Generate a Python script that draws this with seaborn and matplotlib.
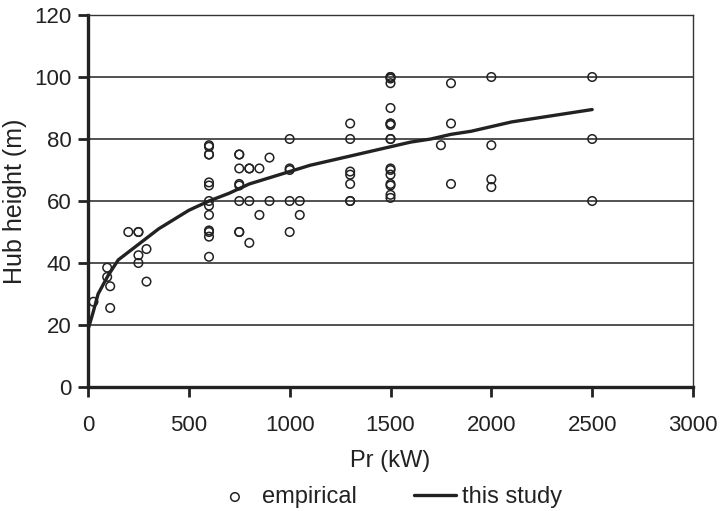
import matplotlib
matplotlib.use("Agg")
import matplotlib.pyplot as plt
import seaborn as sns
import pandas as pd
import numpy as np

sns.set_style("white")
plt.rcParams['font.family'] = ['Liberation Sans', 'DejaVu Sans']

emp_x = [27, 95, 95, 110, 110, 200, 250, 250, 250, 250, 290, 290,
         600, 600, 600, 600, 600, 600, 600, 600, 600, 600, 600, 600, 600,
         750, 750, 750, 750, 750, 750, 750, 750,
         800, 800, 800, 800, 850, 850, 900, 900,
         1000, 1000, 1000, 1000, 1000, 1050, 1050,
         1300, 1300, 1300, 1300, 1300, 1300, 1300,
         1500, 1500, 1500, 1500, 1500, 1500, 1500, 1500, 1500, 1500, 1500, 1500, 1500, 1500, 1500, 1500, 1500,
         1750, 1800, 1800, 1800, 2000, 2000, 2000, 2000, 2500, 2500, 2500]
emp_y = [27.5, 38.5, 35.5, 32.5, 25.5, 50, 50, 50, 42.5, 40, 44.5, 34,
         78, 77.5, 75, 75, 66, 65, 60, 58.5, 55.5, 50.5, 50, 48.5, 42,
         75, 75, 70.5, 65.5, 65, 60, 50, 50,
         70.5, 70.5, 60, 46.5, 70.5, 55.5, 74, 60,
         80, 70.5, 70, 60, 50, 60, 55.5,
         85, 80, 69.5, 68.5, 65.5, 60, 60,
         100, 100, 99.5, 98, 90, 85, 85, 84.5, 80, 80, 70.5, 70, 68.5, 65.5, 65, 62, 61,
         78, 98, 85, 65.5, 100, 78, 67, 64.5, 100, 80, 60]

line_x = [0, 25, 50, 100, 150, 200, 250, 300, 350, 400, 450, 500, 550, 600, 700, 800, 900,
          1000, 1100, 1200, 1300, 1400, 1500, 1600, 1700, 1800, 1900, 2000, 2100, 2200, 2300, 2400, 2500]
line_y = [18.5, 24, 30, 36, 41, 43.5, 46, 48.5, 51, 53, 55, 57, 58.5, 60, 62.5, 65.5, 67.5,
          69.5, 71.5, 73, 74.5, 76, 77.5, 79, 80, 81.5, 82.5, 84, 85.5, 86.5, 87.5, 88.5, 89.5]

emp = pd.DataFrame({"x": emp_x, "y": emp_y})
line = pd.DataFrame({"x": line_x, "y": line_y})

FS = 17
TXT = "#222222"

fig = plt.figure(figsize=(7.21, 5.11), dpi=100)
ax = fig.add_axes([88 / 721, 1 - 387 / 511, (693 - 88) / 721, (387 - 15) / 511])

for yv in [20, 40, 60, 80, 100]:
    ax.axhline(yv, color="#333333", lw=1.2, zorder=0)

sns.scatterplot(data=emp, x="x", y="y", ax=ax, marker="o", s=38,
                facecolors="none", edgecolor="#222222", linewidth=1.1,
                label="empirical", zorder=3)
sns.lineplot(data=line, x="x", y="y", ax=ax, color="#222222", lw=2.4,
             label="this study", zorder=4)

ax.set_xlim(0, 3000)
ax.set_ylim(0, 120)
ax.set_xticks(range(0, 3001, 500))
ax.set_yticks(range(0, 121, 20))
ax.tick_params(axis="both", labelsize=16, direction="out", length=7, width=2,
               color="#222222", labelcolor=TXT, left=True, bottom=True)
ax.tick_params(axis="x", pad=13)
ax.tick_params(axis="y", pad=5)
ax.set_xlabel("Pr (kW)", fontsize=FS, color=TXT, labelpad=10)
ax.set_ylabel("Hub height (m)", fontsize=18, color=TXT)
ax.yaxis.set_label_coords(-0.1005, 0.5)

for s in ["left", "bottom"]:
    ax.spines[s].set_linewidth(2.4)
    ax.spines[s].set_color("#222222")
for s in ["top", "right"]:
    ax.spines[s].set_linewidth(1.0)
    ax.spines[s].set_color("#333333")

handles, labels = ax.get_legend_handles_labels()
fig.legend(handles, labels, loc="center", bbox_to_anchor=(0.538, 0.027), ncol=2,
           frameon=False, fontsize=FS, handlelength=1.8, columnspacing=2.4,
           handletextpad=0.25, labelcolor=TXT)
ax.get_legend().remove()

fig.savefig("out.png", dpi=100)
